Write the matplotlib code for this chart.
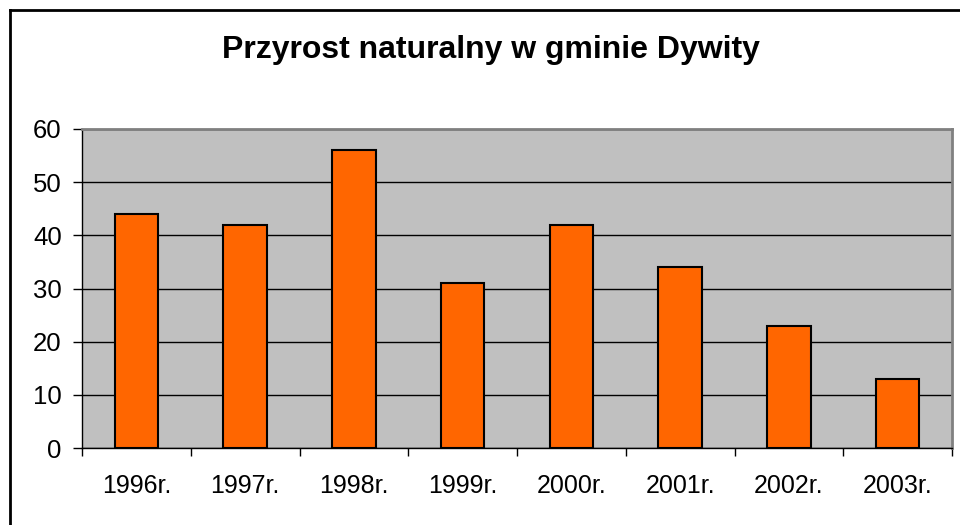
import matplotlib.pyplot as plt
import numpy as np

# dane
lata = ["1996r.", "1997r.", "1998r.", "1999r.", "2000r.", "2001r.", "2002r.", "2003r."]
przyrost = [44, 42, 56, 31, 42, 34, 23, 13]

plt.rcParams["font.family"] = ["Liberation Sans", "DejaVu Sans"]

fig = plt.figure(figsize=(9.6, 5.25), dpi=100)
ax = fig.add_axes([82 / 960, 1 - 448 / 525, 870 / 960, 319 / 525])

x = np.arange(len(lata))
ax.bar(x, przyrost, width=0.4, color="#FF6600", edgecolor="black", linewidth=1.5, zorder=3)

ax.set_facecolor("#C0C0C0")
ax.set_xlim(-0.5, len(lata) - 0.5)
ax.set_ylim(0, 60)
ax.set_yticks(range(0, 61, 10))
ax.yaxis.grid(True, color="black", linewidth=1, zorder=1)
ax.set_xticks(x)
ax.set_xticklabels(lata)
ax.set_xticks(np.arange(-0.5, len(lata)), minor=True)
ax.tick_params(axis="x", which="major", length=0, pad=19, labelsize=18)
ax.tick_params(axis="x", which="minor", length=6, width=1)
ax.tick_params(axis="y", length=6.5, width=1, pad=8, labelsize=18.5)

for s in ["top", "right"]:
    ax.spines[s].set_color("#808080")
    ax.spines[s].set_linewidth(2)
for s in ["left", "bottom"]:
    ax.spines[s].set_color("black")
    ax.spines[s].set_linewidth(1)

fig.text(491 / 960, 1 - 50 / 525, "Przyrost naturalny w gminie Dywity",
         ha="center", va="center", fontsize=23, fontweight="bold")

# ramka wykresu
fig.add_artist(plt.Line2D([10 / 960, 10 / 960], [0, 1 - 10 / 525], color="black", linewidth=2))
fig.add_artist(plt.Line2D([10 / 960, 1], [1 - 10 / 525, 1 - 10 / 525], color="black", linewidth=2))

plt.savefig("out.png", dpi=100)
